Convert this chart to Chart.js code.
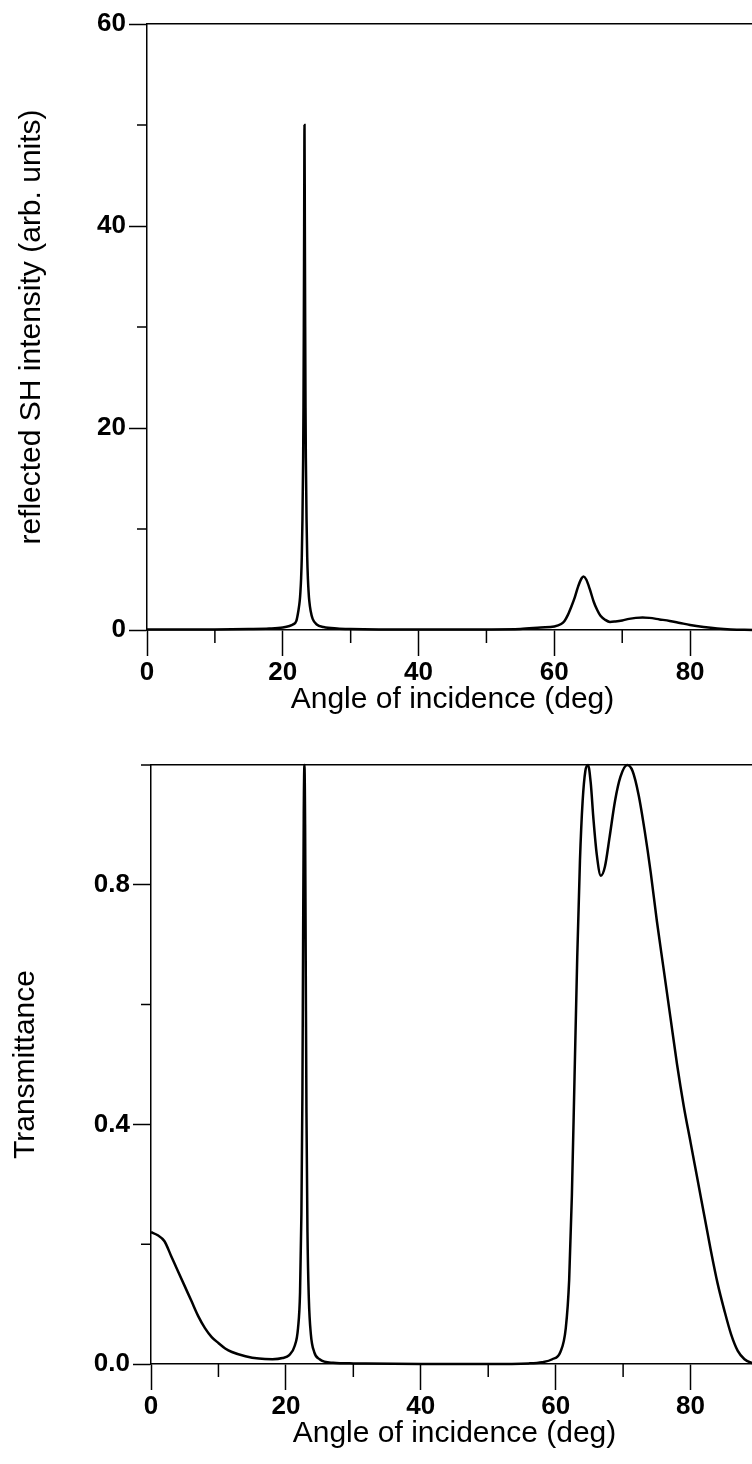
<!DOCTYPE html>
<html lang="en">
<head>
  <meta charset="UTF-8" />
  <title>SH intensity and transmittance vs angle</title>
  <script src="https://cdn.jsdelivr.net/npm/chart.js"></script>
  <style>
    html, body { margin: 0; padding: 0; background: #fff; width: 752px; height: 1464px; overflow: hidden; }
    canvas { position: absolute; left: 0; }
  </style>
</head>
<body>
  <canvas id="shChart" width="760" height="730" style="top:0"></canvas>
  <canvas id="trChart" width="760" height="734" style="top:730px"></canvas>

  <script>
    // x ticks (deg) that carry a label
    const xTickLabels = [0, 20, 40, 60, 80];
    const shTickLabels = [0, 20, 40, 60];
    const trTickLabels = [0.0, 0.4, 0.8];

    // top panel: reflected SH intensity (arb. units)
    const shAngles = [0, 5, 10, 15, 18, 20, 21, 21.5, 22, 22.3, 22.5, 22.6, 22.7, 22.8, 22.9, 23.0, 23.05, 23.1, 23.15, 23.2,
      23.25, 23.3, 23.35, 23.4, 23.5, 23.6, 23.7, 23.8, 23.9, 24.1, 24.4, 25, 26, 28, 30, 40, 50, 55, 58, 60,
      61, 61.5, 62, 62.5, 63, 63.5, 64, 64.3, 64.7, 65.2, 65.8, 66.3, 66.8, 67.5, 68.2, 69, 70, 71, 72, 73,
      74, 75.5, 77, 78.5, 80, 82, 84, 86, 88, 90];
    const shValues = [0.05, 0.05, 0.06, 0.1, 0.15, 0.25, 0.4, 0.55, 0.9, 1.9, 2.9, 3.8, 5.1, 7.2, 11, 17, 22, 30, 40, 50,
      40, 30, 22, 17, 11, 7.2, 5.1, 3.8, 2.9, 1.9, 1.1, 0.55, 0.3, 0.15, 0.1, 0.05, 0.06, 0.1, 0.25, 0.35,
      0.6, 0.9, 1.5, 2.3, 3.2, 4.3, 5.1, 5.3, 5.0, 4.1, 2.8, 2.0, 1.4, 1.0, 0.8, 0.85, 0.95, 1.1, 1.2, 1.25,
      1.2, 1.05, 0.9, 0.7, 0.5, 0.3, 0.15, 0.06, 0.02, 0.01];

    // bottom panel: transmittance
    const trAngles = [0, 1, 2, 3, 4, 5, 6, 7, 8, 9, 10, 11, 12, 14, 16, 18, 19.5, 20.5, 21.3, 21.8,
      22.1, 22.3, 22.45, 22.55, 22.65, 22.75, 22.85, 22.95, 23.05, 23.2, 23.4, 23.7, 24.2, 25, 27, 30, 40, 50, 56, 58,
      59.5, 60.7, 61.5, 62.0, 62.4, 62.8, 63.2, 63.6, 64.0, 64.4, 64.8, 65.2, 65.6, 66.1, 66.7, 67.3, 68.0, 68.8, 69.6, 70.6,
      71.4, 72.3, 73.2, 74.1, 75, 76, 77, 78, 79, 80, 81, 82, 83, 84, 85, 86, 87, 88, 89, 90];
    const trValues = [0.22, 0.215, 0.205, 0.18, 0.155, 0.13, 0.105, 0.08, 0.06, 0.045, 0.035, 0.026, 0.02, 0.013, 0.009, 0.008, 0.01, 0.015, 0.03, 0.06,
      0.12, 0.25, 0.45, 0.7, 0.92, 1.0, 0.9, 0.65, 0.42, 0.22, 0.11, 0.05, 0.02, 0.008, 0.002, 0.001, 0, 0, 0.001, 0.003,
      0.008, 0.02, 0.06, 0.14, 0.28, 0.48, 0.68, 0.84, 0.94, 0.99, 1.0, 0.97, 0.91, 0.85, 0.815, 0.83, 0.88, 0.94, 0.98, 1.0,
      0.99, 0.95, 0.89, 0.82, 0.74, 0.66, 0.58, 0.5, 0.43, 0.37, 0.31, 0.25, 0.19, 0.135, 0.09, 0.05, 0.022, 0.008, 0.002, 0];

    Chart.defaults.font.family = '"Liberation Sans", Arial, sans-serif';
    Chart.defaults.color = '#000';

    const isIn = (list, v) => list.some(m => Math.abs(m - v) < 1e-6);

    // short ticks for the unlabeled values
    const minorTicks = {
      id: 'minorTicks',
      afterDraw(chart, args, opts) {
        const { ctx, chartArea } = chart;
        const xs = chart.scales.x, ys = chart.scales.y;
        ctx.save();
        ctx.strokeStyle = '#000';
        ctx.lineWidth = 1.5;
        ctx.beginPath();
        xs.ticks.forEach(t => {
          if (isIn(opts.xMajor, t.value) || t.value >= 90) return;
          const px = xs.getPixelForValue(t.value);
          ctx.moveTo(px, chartArea.bottom);
          ctx.lineTo(px, chartArea.bottom + opts.xLen);
        });
        ys.ticks.forEach(t => {
          if (isIn(opts.yMajor, t.value)) return;
          const py = ys.getPixelForValue(t.value);
          ctx.moveTo(chartArea.left - opts.yLen, py);
          ctx.lineTo(chartArea.left, py);
        });
        ctx.stroke();
        ctx.restore();
      }
    };

    function makeChart(id, angles, values, c) {
      const points = angles.map((a, i) => ({ x: a, y: values[i] }));
      return new Chart(document.getElementById(id), {
        type: 'line',
        data: {
          datasets: [{
            data: points,
            borderColor: '#000',
            borderWidth: 2.5,
            pointRadius: 0,
            fill: false,
            cubicInterpolationMode: 'monotone',
            clip: 3
          }]
        },
        plugins: [minorTicks],
        options: {
          responsive: false,
          animation: false,
          layout: { padding: { top: c.padTop, right: 2, left: 0, bottom: 0 } },
          plugins: {
            legend: { display: false },
            tooltip: { enabled: false },
            minorTicks: { xMajor: xTickLabels, yMajor: c.yLabels, xLen: 13, yLen: 10 }
          },
          scales: {
            x: {
              type: 'linear',
              position: 'bottom',
              min: 0, max: 90,
              afterFit: s => { s.height = 100; },
              border: { display: true, color: '#000', width: 1.5 },
              grid: {
                drawOnChartArea: false,
                tickLength: 26,
                tickWidth: 1.5,
                tickColor: ctx => isIn(xTickLabels, ctx.tick.value) ? '#000' : 'transparent'
              },
              ticks: {
                stepSize: 10,
                autoSkip: false,
                maxRotation: 0,
                padding: 1,
                font: { size: 26, weight: 'bold' },
                callback: v => isIn(xTickLabels, v) ? v : ''
              },
              title: {
                display: true,
                text: 'Angle of incidence (deg)',
                font: { size: 30 },
                padding: { top: 0, bottom: 12 }
              }
            },
            x2: {
              type: 'linear',
              position: 'top',
              display: true,
              min: 0, max: 90,
              afterFit: s => { s.height = 0; },
              border: { display: true, color: '#000', width: 1.5 },
              grid: { display: false, drawTicks: false },
              ticks: { display: false }
            },
            y: {
              min: c.yMin, max: c.yMax,
              afterFit: s => { s.width = c.left; },
              border: { display: true, color: '#000', width: 1.5 },
              grid: {
                drawOnChartArea: false,
                tickLength: 18,
                tickWidth: 1.5,
                tickColor: ctx => isIn(c.yLabels, ctx.tick.value) ? '#000' : 'transparent'
              },
              ticks: {
                stepSize: c.yStep,
                autoSkip: false,
                padding: 3,
                font: { size: 26, weight: 'bold' },
                callback: v => isIn(c.yLabels, v) ? c.fmt(v) : ''
              },
              title: {
                display: true,
                text: c.yTitle,
                font: { size: 30 },
                padding: { top: c.titlePad, bottom: 0 }
              }
            }
          }
        }
      });
    }

    makeChart('shChart', shAngles, shValues, {
      padTop: 24, left: 147, yMin: 0, yMax: 60, yStep: 10, yLabels: shTickLabels,
      fmt: v => String(v), yTitle: 'reflected SH intensity (arb. units)', titlePad: 14
    });

    makeChart('trChart', trAngles, trValues, {
      padTop: 35, left: 151, yMin: 0, yMax: 1, yStep: 0.2, yLabels: trTickLabels,
      fmt: v => v.toFixed(1), yTitle: 'Transmittance', titlePad: 8
    });
  </script>
</body>
</html>
